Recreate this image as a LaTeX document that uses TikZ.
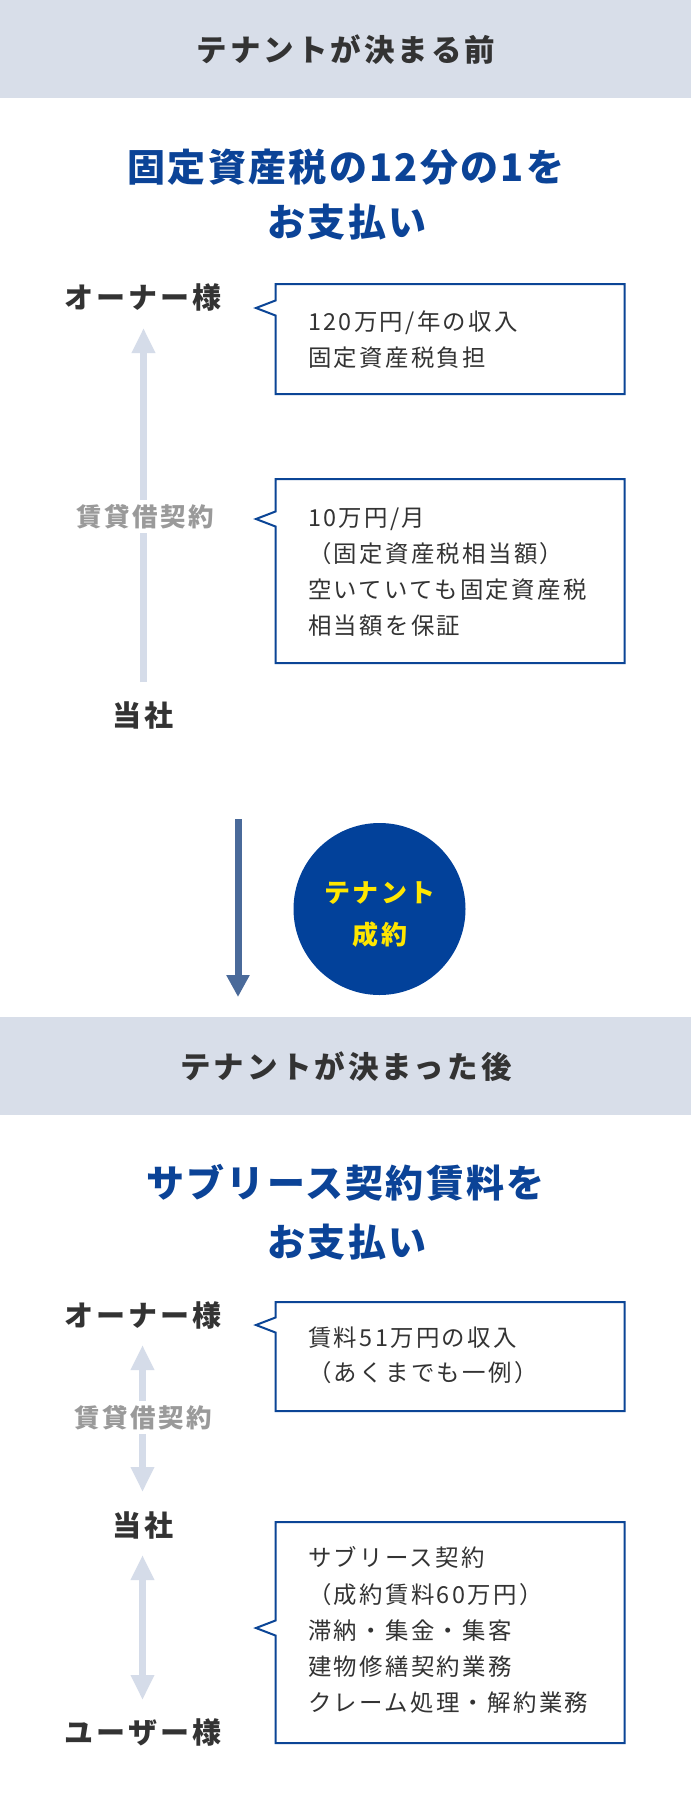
\documentclass[tikz,border=0pt]{standalone}
\usepackage{fontspec}
\setmainfont{Noto Sans CJK JP}[LetterSpace=10]
\newfontfamily\ttlfont{Noto Sans CJK JP}[LetterSpace=6]
\usetikzlibrary{arrows.meta}
\definecolor{band}{HTML}{D8DEE9}
\definecolor{ttlblue}{HTML}{0B4397}
\definecolor{boxblue}{HTML}{0B4596}
\definecolor{dark}{HTML}{333333}
\definecolor{graylbl}{HTML}{9A9A9A}
\definecolor{lightarr}{HTML}{D5DCE9}
\definecolor{darr}{HTML}{4A6A9A}
\definecolor{circ}{HTML}{02419A}
\definecolor{yel}{HTML}{FFE600}
\tikzset{
  hdr/.style={inner sep=0pt, text=dark, font=\bfseries\fontsize{30.5pt}{36pt}\selectfont, text height=26.84pt, text depth=3.66pt},
  ttl/.style={inner sep=0pt, text=ttlblue, font=\ttlfont\bfseries\fontsize{38pt}{46pt}\selectfont, text height=33.44pt, text depth=4.56pt},
  who/.style={inner sep=0pt, text=dark, font=\bfseries\fontsize{29pt}{35pt}\selectfont, text height=25.52pt, text depth=3.48pt},
  lbl/.style={inner xsep=4pt, inner ysep=0pt, fill=white, text=graylbl, font=\bfseries\fontsize{25.5pt}{30pt}\selectfont, text height=22.44pt, text depth=3.06pt, minimum height=33pt},
  btxt/.style={inner sep=0pt, anchor=west, text=dark, font=\fontsize{23.4pt}{28pt}\selectfont, text height=20.6pt, text depth=2.8pt},
  ctxt/.style={inner sep=0pt, text=yel, font=\bfseries\fontsize{26pt}{31pt}\selectfont, text height=22.88pt, text depth=3.12pt},
  boxline/.style={draw=boxblue, line width=2pt, fill=white, line join=miter},
  lightarrow/.style={draw=lightarr, line width=7pt, -{Triangle[width=22pt,length=25pt]}},
  lightdouble/.style={draw=lightarr, line width=7pt, {Triangle[width=22pt,length=25pt]}-{Triangle[width=22pt,length=25pt]}},
  darkarrow/.style={draw=darr, line width=7pt, -{Triangle[width=22pt,length=22pt]}}
}
\newcommand\calloutbox[3]{%
  \draw[boxline] (275.5,#1) -- (624.5,#1) -- (624.5,#2) -- (275.5,#2) -- (275.5,{#3+7.5}) -- (256,#3) -- (275.5,{#3-7.5}) -- cycle;}
\begin{document}
\begin{tikzpicture}[x=1pt,y=-1pt]
\useasboundingbox (0,0) rectangle (691,1814);
\fill[white] (0,0) rectangle (691,1814);

% ---------- before ----------
\fill[band] (0,0) rectangle (691,98);
\node[hdr] (h1) at (346,50) {テナントが決まる前};
\node[ttl] (t1a) at (346,167.5) {固定資産税の12分の1を};
\node[ttl] (t1b) at (347,222.5) {お支払い};

\node[who] (own1) at (143,297) {オーナー様};
\node[who] (co1) at (143,715) {当社};
\coordinate (a1s) at (143.5,682);
\coordinate (a1t) at (143.5,328);
\draw[lightarrow] (a1s) -- (a1t);
\node[lbl] (l1) at (145,516.5) {賃貸借契約};

\calloutbox{284}{394}{308}
\node[btxt] (b1a) at (308,322) {120万円/年の収入};
\node[btxt] (b1b) at (308,358) {固定資産税負担};

\calloutbox{479}{663}{519}
\node[btxt] (b2a) at (308,518) {10万円/月};
\node[btxt] (b2b) at (308,554) {（固定資産税相当額）};
\node[btxt] (b2c) at (308,590) {空いていても固定資産税};
\node[btxt] (b2d) at (308,626) {相当額を保証};

% ---------- transition ----------
\coordinate (ds) at (238,819);
\coordinate (dt) at (238,997);
\draw[darkarrow] (ds) -- (dt);
\fill[circ] (379.5,909) circle (86);
\node[ctxt] (c1) at (380,893) {テナント};
\node[ctxt] (c2) at (380,935) {成約};

% ---------- after ----------
\fill[band] (0,1017) rectangle (691,1115);
\node[hdr] (h2) at (346,1067) {テナントが決まった後};
\node[ttl] (t2a) at (345.5,1183.3) {サブリース契約賃料を};
\node[ttl] (t2b) at (347,1241.7) {お支払い};

\node[who] (own2) at (143,1315) {オーナー様};
\node[who] (co2) at (143,1525) {当社};
\node[who] (usr) at (143,1732) {ユーザー様};

\coordinate (a2t) at (142.5,1345);
\coordinate (a2b) at (142.5,1492);
\draw[lightdouble] (a2t) -- (a2b);
\node[lbl] (l2) at (143,1417.5) {賃貸借契約};

\coordinate (a3t) at (142.5,1555);
\coordinate (a3b) at (142.5,1700);
\draw[lightdouble] (a3t) -- (a3b);

\calloutbox{1302}{1411}{1325}
\node[btxt] (b3a) at (308,1338) {賃料51万円の収入};
\node[btxt] (b3b) at (308,1373) {（あくまでも一例）};

\calloutbox{1522}{1743}{1628}
\node[btxt] (b4a) at (308,1558) {サブリース契約};
\node[btxt] (b4b) at (308,1595) {（成約賃料60万円）};
\node[btxt] (b4c) at (308,1631) {滞納・集金・集客};
\node[btxt] (b4d) at (308,1667) {建物修繕契約業務};
\node[btxt] (b4e) at (308,1703) {クレーム処理・解約業務};
\end{tikzpicture}
\end{document}
